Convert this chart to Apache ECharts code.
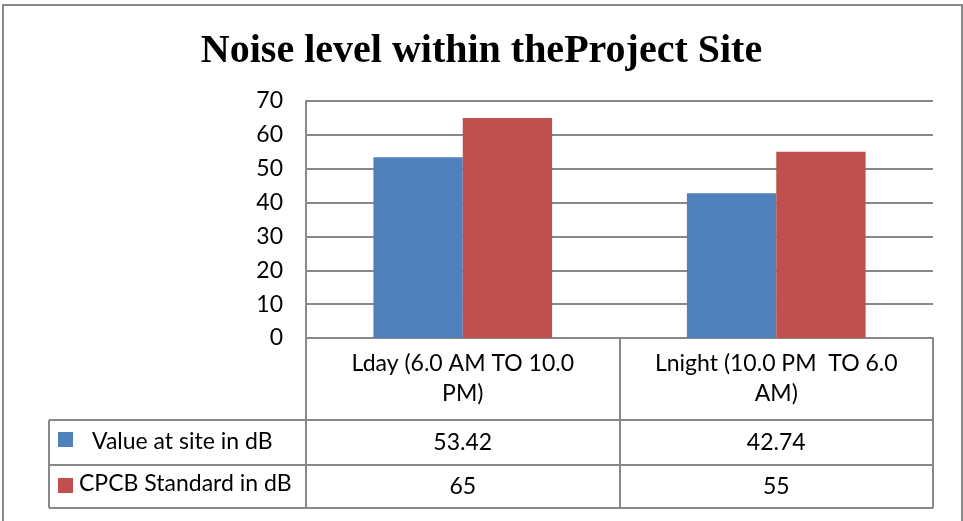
<!DOCTYPE html>
<html>
<head>
<meta charset="utf-8">
<script src="https://cdn.jsdelivr.net/npm/echarts@6/dist/echarts.min.js"></script>
<style>
  html, body { margin: 0; padding: 0; background: #fff; }
  #chart { width: 963px; height: 521px; }
</style>
</head>
<body>
<div id="chart"></div>
<script>
const titleText = 'Noise level within theProject Site'
const categories = ['Lday (6.0 AM TO 10.0\nPM)', 'Lnight (10.0 PM  TO 6.0\nAM)']
const seriesNames = ['Value at site in dB', 'CPCB Standard in dB']
const siteValues = [53.42, 42.74]
const standardValues = [65, 55]
const yTicks = [0, 70, 10] // min, max, interval

const colors = ['#4f81bd', '#c0504d']
const lineColor = '#888888'
const font = 'Lato, Carlito, "Open Sans", sans-serif'
const fontSize = 23

const chart = echarts.init(document.getElementById('chart'))

// table rows below the plot
const rowTop = 420
const rowMid = 465
const rowBottom = 508
const tableLeft = 49
const tableRight = 933
const plotLeft = 306

const graphic = [
  // outer frame
  { type: 'rect', shape: { x: 3, y: 5, width: 959, height: 530 }, style: { fill: 'none', stroke: lineColor, lineWidth: 2 } },
  // table lines
  { type: 'line', shape: { x1: tableLeft, y1: rowTop, x2: tableRight, y2: rowTop }, style: { stroke: lineColor, lineWidth: 2 } },
  { type: 'line', shape: { x1: tableLeft, y1: rowMid, x2: tableRight, y2: rowMid }, style: { stroke: lineColor, lineWidth: 2 } },
  { type: 'line', shape: { x1: tableLeft, y1: rowBottom, x2: tableRight, y2: rowBottom }, style: { stroke: lineColor, lineWidth: 2 } },
  { type: 'line', shape: { x1: tableLeft, y1: rowTop, x2: tableLeft, y2: rowBottom }, style: { stroke: lineColor, lineWidth: 2 } },
  // legend keys
  { type: 'rect', shape: { x: 58, y: 432, width: 15, height: 15 }, style: { fill: colors[0] } },
  { type: 'text', x: 92, y: 442, style: { text: seriesNames[0], font: fontSize + 'px ' + font, fill: '#000', verticalAlign: 'middle' } },
  { type: 'rect', shape: { x: 58, y: 478, width: 15, height: 15 }, style: { fill: colors[1] } },
  { type: 'text', x: 79, y: 484, style: { text: seriesNames[1], font: fontSize + 'px ' + font, fill: '#000', verticalAlign: 'middle' } }
]

chart.setOption({
  animation: false,
  backgroundColor: '#fff',
  title: {
    text: titleText,
    left: 'center',
    top: 27,
    textStyle: {
      fontFamily: '"Liberation Serif", "DejaVu Serif", serif',
      fontWeight: 'bold',
      fontSize: 40,
      color: '#000'
    }
  },
  grid: {
    left: plotLeft,
    right: 963 - tableRight,
    top: 101,
    bottom: 521 - 338
  },
  xAxis: [{
    type: 'category',
    data: categories,
    axisLine: { show: true, lineStyle: { color: lineColor, width: 2 } },
    axisTick: { show: true, length: rowBottom - 338, lineStyle: { color: lineColor, width: 2 } },
    axisLabel: {
      margin: 11,
      fontSize: fontSize,
      lineHeight: 30,
      fontFamily: font,
      color: '#000',
      interval: 0
    }
  }, {
    type: 'category',
    data: categories,
    position: 'bottom',
    offset: rowTop - 338,
    axisLine: { show: false },
    axisTick: { show: false },
    axisLabel: {
      margin: 11,
      fontSize: fontSize,
      fontFamily: font,
      color: '#000',
      interval: 0,
      formatter: (v, i) => String(siteValues[i])
    }
  }, {
    type: 'category',
    data: categories,
    position: 'bottom',
    offset: rowMid - 338,
    axisLine: { show: false },
    axisTick: { show: false },
    axisLabel: {
      margin: 10,
      fontSize: fontSize,
      fontFamily: font,
      color: '#000',
      interval: 0,
      formatter: (v, i) => String(standardValues[i])
    }
  }],
  yAxis: {
    type: 'value',
    min: yTicks[0],
    max: yTicks[1],
    interval: yTicks[2],
    axisLine: { show: true, lineStyle: { color: lineColor, width: 2 } },
    axisTick: { show: false },
    axisLabel: {
      margin: 23,
      fontSize: fontSize,
      fontFamily: font,
      color: '#000'
    },
    splitLine: { show: true, lineStyle: { color: lineColor, width: 2 } }
  },
  series: [{
    name: seriesNames[0],
    type: 'bar',
    data: siteValues,
    barWidth: '28.5%',
    barGap: '0%',
    itemStyle: { color: colors[0] }
  }, {
    name: seriesNames[1],
    type: 'bar',
    data: standardValues,
    barWidth: '28.5%',
    itemStyle: { color: colors[1] }
  }],
  graphic: graphic
})
</script>
</body>
</html>
